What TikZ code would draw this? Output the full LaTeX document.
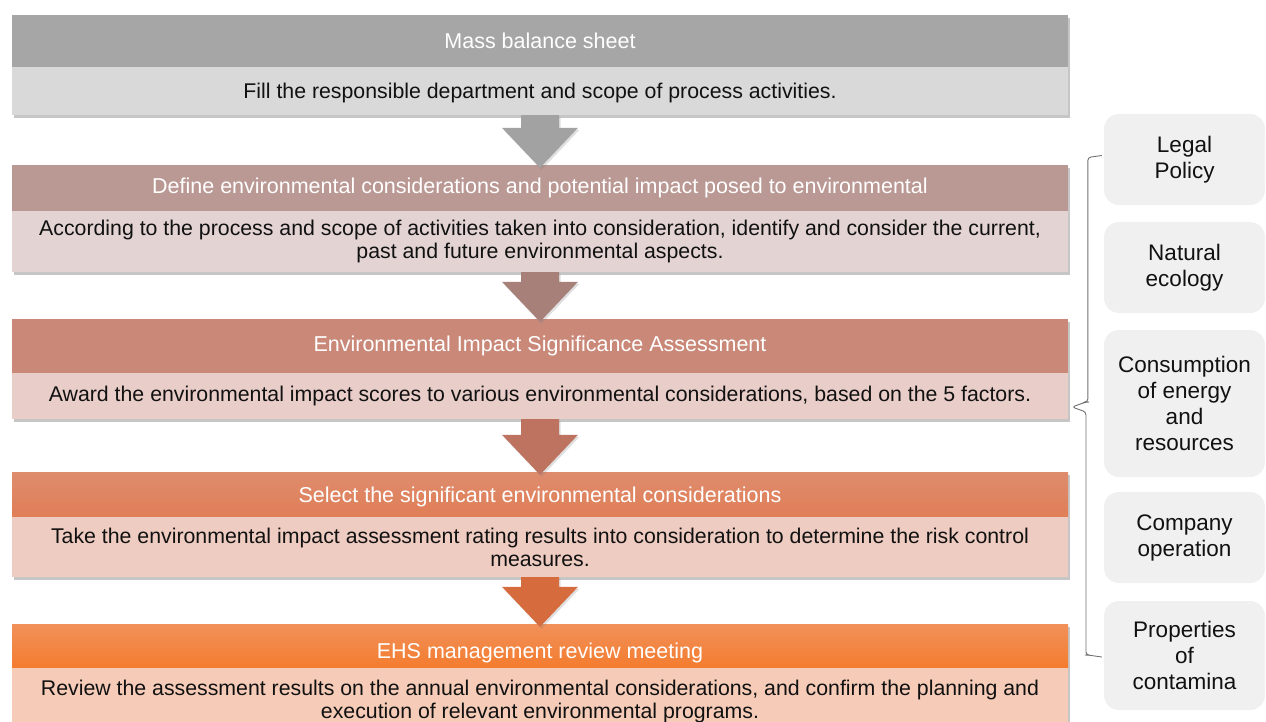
\documentclass[tikz,border=0pt]{standalone}
\usepackage{fontspec}
\setmainfont{Liberation Sans}
\usetikzlibrary{shadows,calc}
\definecolor{hA}{HTML}{A6A6A6}\definecolor{bA}{HTML}{D9D9D9}\definecolor{aA}{HTML}{A2A2A2}
\definecolor{hB}{HTML}{BA9894}\definecolor{bB}{HTML}{E3D4D3}\definecolor{aB}{HTML}{A8807A}
\definecolor{hC}{HTML}{C98878}\definecolor{bC}{HTML}{E9CDC8}\definecolor{aC}{HTML}{BE7360}
\definecolor{hDt}{HTML}{DE8C6D}\definecolor{hDb}{HTML}{E07E57}\definecolor{bD}{HTML}{EFCCC1}\definecolor{aD}{HTML}{D66B3E}
\definecolor{hEt}{HTML}{F1915A}\definecolor{hEb}{HTML}{F47B2E}\definecolor{bE}{HTML}{F6CCB8}
\definecolor{sidegray}{HTML}{F0F0F0}\definecolor{bracecol}{HTML}{707070}\definecolor{txt}{HTML}{111111}
\newcommand{\flowarrow}[3]{%
  \fill[#3, drop shadow={opacity=0.25,shadow xshift=1.5pt,shadow yshift=-2pt}]
    ($(#1.south)+(-19,0)$) -- ($(#1.south)+(19,0)$) -- ($(#2.north)+(19,-37)$) -- ($(#2.north)+(38,-37)$)
    -- ($(#2.north)+(0,3)$) -- ($(#2.north)+(-38,-37)$) -- ($(#2.north)+(-19,-37)$) -- cycle;}
\newcommand{\boxshadow}[2]{%
  \path[fill=white, drop shadow={opacity=0.45,shadow xshift=2pt,shadow yshift=-3pt}] (#1.north west) rectangle (#2.south east);}
\begin{document}
\begin{tikzpicture}[x=1pt,y=-1pt,
  hdr/.style={rectangle, minimum width=1056pt, inner sep=0pt, text=white, font=\fontsize{21.5}{24}\selectfont},
  bodybox/.style={rectangle, minimum width=1056pt, inner sep=0pt, text=txt, align=center, font=\fontsize{21.3}{23}\selectfont},
  side/.style={rectangle, rounded corners=15pt, fill=sidegray, minimum width=161pt, inner sep=0pt, text=txt, align=center, font=\fontsize{22.5}{26}\selectfont}]
\useasboundingbox (0,0) rectangle (1266,722);
% nodes (positions)
\path
  (540,41) node[hdr, minimum height=52pt] (h1) {}
  (540,91) node[bodybox, minimum height=48pt] (b1) {}
  (540,188) node[hdr, minimum height=46pt] (h2) {}
  (540,241.5) node[bodybox, minimum height=61pt] (b2) {}
  (540,346) node[hdr, minimum height=54pt] (h3) {}
  (540,396) node[bodybox, minimum height=46pt] (b3) {}
  (540,494.5) node[hdr, minimum height=45pt] (h4) {}
  (540,547) node[bodybox, minimum height=60pt] (b4) {}
  (540,646) node[hdr, minimum height=44pt] (h5) {}
  (540,701) node[bodybox, minimum height=66pt] (b5) {};
\boxshadow{h1}{b1}\boxshadow{h2}{b2}\boxshadow{h3}{b3}\boxshadow{h4}{b4}\boxshadow{h5}{b5}
\node[hdr, minimum height=52pt, fill=hA] at (h1) {Mass balance sheet};
\node[bodybox, minimum height=48pt, fill=bA, text height=20pt] at (b1) {Fill the responsible department and scope of process activities.};
\node[hdr, minimum height=46pt, fill=hB] at (h2) {Define environmental considerations and potential impact posed to environmental};
\node[bodybox, minimum height=61pt, fill=bB] at (b2) {According to the process and scope of activities taken into consideration, identify and consider the current,\\past and future environmental aspects.};
\node[hdr, minimum height=54pt, fill=hC] at (h3) {Environmental Impact Significance Assessment};
\node[bodybox, minimum height=46pt, fill=bC] at (b3) {Award the environmental impact scores to various environmental considerations, based on the 5 factors.};
\node[hdr, minimum height=45pt, top color=hDt, bottom color=hDb, text height=21pt] at (h4) {Select the significant environmental considerations};
\node[bodybox, minimum height=60pt, fill=bD] at (b4) {Take the environmental impact assessment rating results into consideration to determine the risk control\\measures.};
\node[hdr, minimum height=44pt, top color=hEt, bottom color=hEb, text height=29pt, text depth=5pt] at (h5) {EHS management review meeting};
\node[bodybox, minimum height=66pt, fill=bE] at (b5) {Review the assessment results on the annual environmental considerations, and confirm the planning and\\execution of relevant environmental programs.};
\flowarrow{b1}{h2}{aA}
\flowarrow{b2}{h3}{aB}
\flowarrow{b3}{h4}{aC}
\flowarrow{b4}{h5}{aD}
% side boxes
\node[side, minimum height=91pt] (legal) at (1184.5,159.5) {Legal\\Policy};
\node[side, minimum height=91pt] (nat) at (1184.5,267.5) {Natural\\ecology};
\node[side, minimum height=147pt] (cons) at (1184.5,403.5) {Consumption\\of energy\\and\\resources};
\node[side, minimum height=91pt] (comp) at (1184.5,537.5) {Company\\operation};
\node[side, minimum height=109pt] (prop) at (1184.5,655.5) {Properties\\of\\contamina};
% brace
\coordinate (bt) at ($(legal.west)+(-2,-4)$);
\coordinate (bb) at ($(prop.west)+(-2,1.5)$);
\coordinate (tip) at (1072,407);
\draw[bracecol, line width=0.9pt, rounded corners=3pt] (bt) -- ++(-14,2) |- ($(tip)+(14,-5)$) -- (tip) -- ($(tip)+(14,5)$) |- ($(bb)+(-14,-2)$) -- (bb);
\end{tikzpicture}
\end{document}
